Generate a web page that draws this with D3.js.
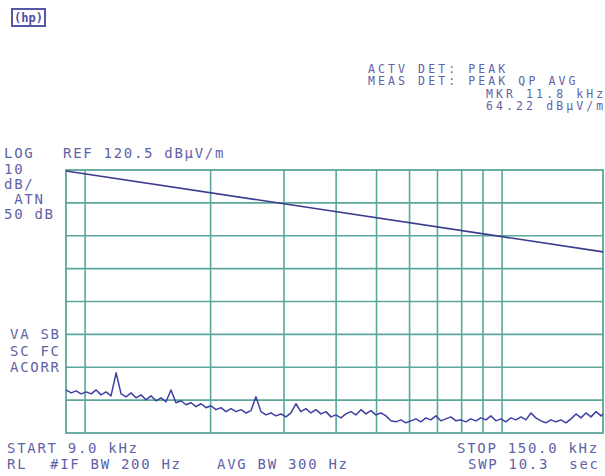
<!DOCTYPE html>
<html>
<head>
<meta charset="utf-8">
<script src="https://cdn.jsdelivr.net/npm/d3@7"></script>
<style>
  html, body { margin: 0; padding: 0; background: #ffffff; }
  svg text { font-family: "DejaVu Sans Mono", monospace; font-size: 14px; letter-spacing: 1.7px; fill: #6262a6; }
  svg text.small { font-size: 11.5px; letter-spacing: 3.1px; }
</style>
</head>
<body>
<div id="graph01"></div>
<script>
// 表示範囲 (kHz) と基準レベル (dBµV/m)
const xDomainKHz = [9.0, 174.6];
const yDomainDb = [40.5, 120.5];

// 目盛り線
const xGridKHz = [10, 20, 30, 40, 50, 60, 70, 80, 90, 100];
const yGridDb = [50.5, 60.5, 70.5, 80.5, 90.5, 100.5, 110.5];

// リミットライン
const limitKHz = [9.0, 174.6];
const limitDb = [120.2, 95.6];

// 測定トレース
const traceKHz = [
  9.00, 9.26, 9.52, 9.78, 10.06, 10.34, 10.63, 10.92, 11.23, 11.54,
  11.87, 12.20, 12.54, 12.89, 13.25, 13.62, 14.00, 14.39, 14.80, 15.21,
  15.63, 16.07, 16.52, 16.99, 17.46, 17.95, 18.45, 18.97, 19.50, 20.04,
  20.60, 21.18, 21.77, 22.38, 23.01, 23.65, 24.31, 24.99, 25.69, 26.41,
  27.15, 27.91, 28.69, 29.49, 30.32, 31.17, 32.04, 32.93, 33.86, 34.80,
  35.78, 36.78, 37.81, 38.87, 39.95, 41.07, 42.22, 43.40, 44.62, 45.87,
  47.15, 48.47, 49.82, 51.22, 52.65, 54.12, 55.64, 57.20, 58.80, 60.44,
  62.13, 63.87, 65.66, 67.49, 69.38, 71.33, 73.32, 75.38, 77.49, 79.65,
  81.88, 84.18, 86.53, 88.96, 91.44, 94.00, 96.64, 99.34, 102.1, 105.0,
  107.9, 111.0, 114.1, 117.3, 120.5, 123.9, 127.4, 131.0, 134.6, 138.4,
  142.3, 146.3, 150.4, 154.6, 158.9, 163.4, 168.0, 172.7, 174.6
];
const traceDb = [
  53.6, 52.7, 53.3, 52.4, 53.0, 52.4, 53.6, 52.1, 53.0, 51.8,
  58.8, 52.4, 51.5, 52.7, 51.2, 52.1, 50.6, 51.8, 50.3, 51.2,
  50.0, 53.6, 49.7, 50.3, 49.1, 49.7, 48.5, 49.4, 48.2, 48.8,
  47.6, 48.2, 47.0, 47.9, 47.0, 47.6, 46.6, 47.3, 51.5, 47.0,
  46.0, 46.6, 45.7, 46.3, 45.4, 46.6, 49.4, 47.0, 47.9, 46.6,
  47.6, 46.3, 47.0, 45.4, 46.0, 45.1, 46.3, 47.0, 46.0, 47.6,
  46.3, 47.3, 46.0, 46.6, 45.7, 44.2, 43.9, 44.5, 43.6, 44.2,
  44.8, 43.9, 45.1, 44.5, 45.7, 44.2, 44.8, 45.4, 44.2, 44.5,
  43.9, 44.8, 44.2, 45.1, 44.5, 45.7, 44.2, 44.8, 43.9, 45.1,
  44.5, 45.4, 44.5, 46.6, 45.1, 44.2, 43.6, 44.5, 43.9, 44.5,
  43.6, 44.8, 46.3, 45.1, 46.6, 45.4, 47.0, 45.7, 46.3
];

// 画面の注記
const headerLines = ["ACTV DET: PEAK", "MEAS DET: PEAK QP AVG"];
const markerLines = ["MKR 11.8 kHz", "64.22 dBµV/m"];
const leftLines = ["10", "dB/", " ATN", "50 dB"];
const statusLines = ["VA SB", "SC FC", "ACORR"];

(function() {
    const svg = d3.select("#graph01").append("svg")
        .attr("width", 605)
        .attr("height", 476);

    const x = d3.scaleLog().domain(xDomainKHz).range([66, 603]);
    const y = d3.scaleLinear().domain(yDomainDb).range([433, 170]);
    const grid = "#5ba79b";

    // グラティクル
    svg.append("g")
        .selectAll("line")
        .data(xGridKHz)
        .join("line")
        .attr("x1", d => x(d)).attr("x2", d => x(d))
        .attr("y1", y(yDomainDb[0])).attr("y2", y(yDomainDb[1]))
        .attr("stroke", grid).attr("stroke-width", 1.6);
    svg.append("g")
        .selectAll("line")
        .data(yGridDb)
        .join("line")
        .attr("x1", x(xDomainKHz[0])).attr("x2", x(xDomainKHz[1]))
        .attr("y1", d => y(d)).attr("y2", d => y(d))
        .attr("stroke", grid).attr("stroke-width", 1.6);
    svg.append("rect")
        .attr("x", x(xDomainKHz[0])).attr("y", y(yDomainDb[1]))
        .attr("width", x(xDomainKHz[1]) - x(xDomainKHz[0]))
        .attr("height", y(yDomainDb[0]) - y(yDomainDb[1]))
        .attr("fill", "none").attr("stroke", grid).attr("stroke-width", 1.8);

    // リミットライン
    const line = d3.line().x(d => x(d[0])).y(d => y(d[1]));
    svg.append("path")
        .datum(limitKHz.map((f, i) => [f, limitDb[i]]))
        .attr("fill", "none")
        .attr("stroke", "#3c3c8e")
        .attr("stroke-width", 1.6)
        .attr("d", line);

    // トレース
    svg.append("path")
        .datum(traceKHz.map((f, i) => [f, traceDb[i]]))
        .attr("fill", "none")
        .attr("stroke", "#3f3fa3")
        .attr("stroke-width", 1.5)
        .attr("stroke-linejoin", "round")
        .attr("d", line);

    // ロゴ
    svg.append("rect")
        .attr("x", 12).attr("y", 9).attr("width", 33).attr("height", 17)
        .attr("fill", "none").attr("stroke", "#5656a6").attr("stroke-width", 2);
    svg.append("text")
        .attr("x", 28.5).attr("y", 22)
        .attr("text-anchor", "middle")
        .style("font-size", "12px").style("letter-spacing", "0px")
        .style("font-weight", "bold").style("fill", "#5050a0")
        .text("(hp)");

    // 注記
    headerLines.forEach((t, i) => {
        svg.append("text").attr("class", "small")
            .attr("x", 368).attr("y", 72.5 + i * 12.5).text(t);
    });
    markerLines.forEach((t, i) => {
        svg.append("text").attr("class", "small")
            .attr("x", 486).attr("y", 97.5 + i * 12.5).text(t);
    });
    svg.append("text").attr("x", 4).attr("y", 158).text("LOG");
    svg.append("text").attr("x", 63).attr("y", 158).text("REF 120.5 dBµV/m");
    leftLines.forEach((t, i) => {
        svg.append("text").attr("x", 4).attr("y", 174 + i * 15)
            .style("white-space", "pre").text(t);
    });
    statusLines.forEach((t, i) => {
        svg.append("text").attr("x", 10).attr("y", 339 + i * 16.5).text(t);
    });
    svg.append("text").attr("x", 7).attr("y", 453).text("START 9.0 kHz");
    svg.append("text").attr("x", 457).attr("y", 453).text("STOP 150.0 kHz");
    svg.append("text").attr("x", 7).attr("y", 469).text("RL");
    svg.append("text").attr("x", 50).attr("y", 469).text("#IF BW 200 Hz");
    svg.append("text").attr("x", 217).attr("y", 469).text("AVG BW 300 Hz");
    svg.append("text").attr("x", 468).attr("y", 469)
        .style("white-space", "pre").text("SWP 10.3  sec");
})();
</script>
</body>
</html>
